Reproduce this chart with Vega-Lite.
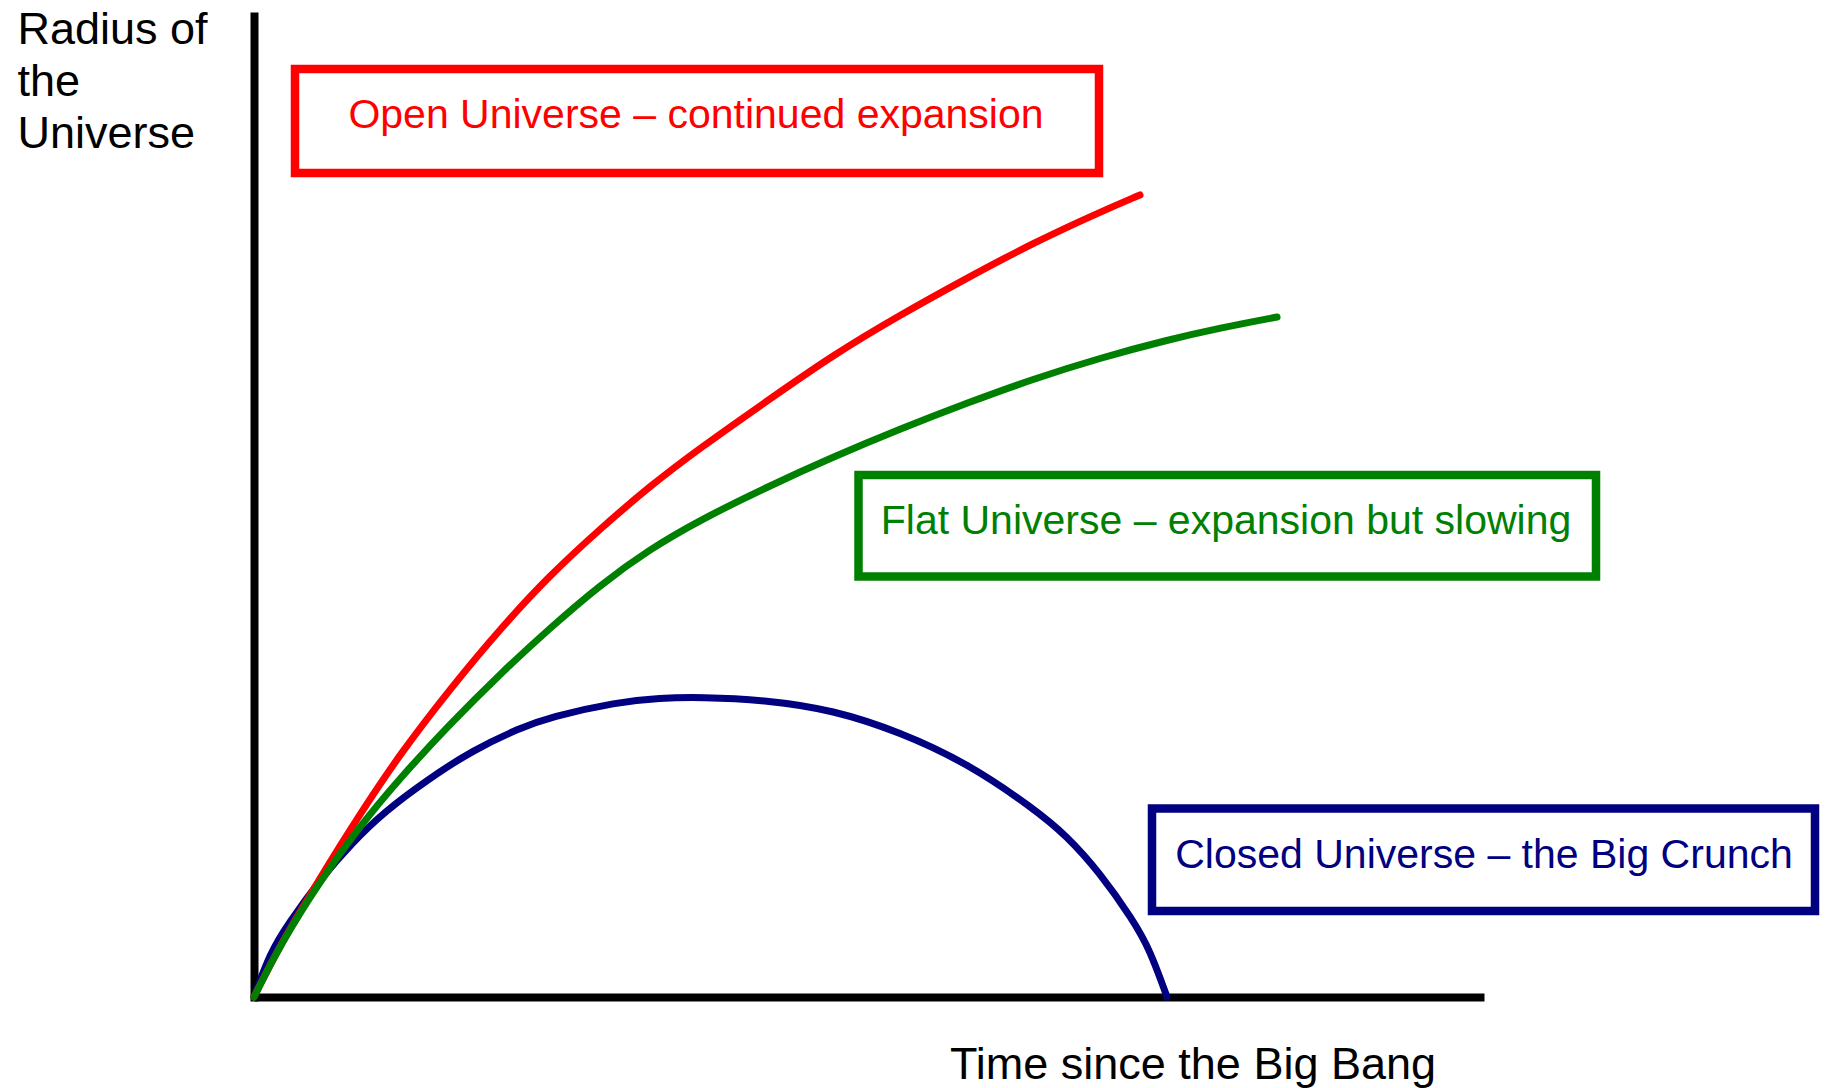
{
  "$schema": "https://vega.github.io/schema/vega-lite/v6.json",
  "width": 1230,
  "height": 981,
  "autosize": "none",
  "padding": {"left": 254, "top": 16, "right": 341, "bottom": 91},
  "background": "white",
  "config": {"view": {"stroke": null}},
  "datasets": {
    "curves": [
      {"universe": "Closed", "t": 0, "r": 0},
      {"universe": "Closed", "t": 0.16, "r": 0.44},
      {"universe": "Closed", "t": 0.34, "r": 0.73},
      {"universe": "Closed", "t": 0.68, "r": 1.2},
      {"universe": "Closed", "t": 0.98, "r": 1.54},
      {"universe": "Closed", "t": 1.3, "r": 1.85},
      {"universe": "Closed", "t": 1.73, "r": 2.17},
      {"universe": "Closed", "t": 2.19, "r": 2.47},
      {"universe": "Closed", "t": 2.66, "r": 2.69},
      {"universe": "Closed", "t": 2.96, "r": 2.8},
      {"universe": "Closed", "t": 3.63, "r": 2.95},
      {"universe": "Closed", "t": 4.06, "r": 2.99},
      {"universe": "Closed", "t": 4.46, "r": 3.0},
      {"universe": "Closed", "t": 5.13, "r": 2.97},
      {"universe": "Closed", "t": 5.79, "r": 2.87},
      {"universe": "Closed", "t": 6.46, "r": 2.65},
      {"universe": "Closed", "t": 7.13, "r": 2.34},
      {"universe": "Closed", "t": 7.79, "r": 1.89},
      {"universe": "Closed", "t": 8.13, "r": 1.61},
      {"universe": "Closed", "t": 8.46, "r": 1.24},
      {"universe": "Closed", "t": 8.79, "r": 0.77},
      {"universe": "Closed", "t": 8.96, "r": 0.47},
      {"universe": "Closed", "t": 9.13, "r": 0},
      {"universe": "Open", "t": 0, "r": 0},
      {"universe": "Open", "t": 0.26, "r": 0.52},
      {"universe": "Open", "t": 0.66, "r": 1.19},
      {"universe": "Open", "t": 1.06, "r": 1.83},
      {"universe": "Open", "t": 1.46, "r": 2.43},
      {"universe": "Open", "t": 1.96, "r": 3.08},
      {"universe": "Open", "t": 2.46, "r": 3.68},
      {"universe": "Open", "t": 2.96, "r": 4.22},
      {"universe": "Open", "t": 3.46, "r": 4.68},
      {"universe": "Open", "t": 3.96, "r": 5.11},
      {"universe": "Open", "t": 4.46, "r": 5.49},
      {"universe": "Open", "t": 5.13, "r": 5.96},
      {"universe": "Open", "t": 5.79, "r": 6.42},
      {"universe": "Open", "t": 6.46, "r": 6.82},
      {"universe": "Open", "t": 7.13, "r": 7.19},
      {"universe": "Open", "t": 7.79, "r": 7.54},
      {"universe": "Open", "t": 8.46, "r": 7.85},
      {"universe": "Open", "t": 8.86, "r": 8.02},
      {"universe": "Flat", "t": 0, "r": 0},
      {"universe": "Flat", "t": 0.26, "r": 0.52},
      {"universe": "Flat", "t": 0.66, "r": 1.16},
      {"universe": "Flat", "t": 1.06, "r": 1.71},
      {"universe": "Flat", "t": 1.46, "r": 2.19},
      {"universe": "Flat", "t": 1.96, "r": 2.73},
      {"universe": "Flat", "t": 2.46, "r": 3.23},
      {"universe": "Flat", "t": 2.96, "r": 3.69},
      {"universe": "Flat", "t": 3.46, "r": 4.12},
      {"universe": "Flat", "t": 3.96, "r": 4.48},
      {"universe": "Flat", "t": 4.46, "r": 4.77},
      {"universe": "Flat", "t": 5.13, "r": 5.1},
      {"universe": "Flat", "t": 5.79, "r": 5.4},
      {"universe": "Flat", "t": 6.46, "r": 5.68},
      {"universe": "Flat", "t": 7.13, "r": 5.94},
      {"universe": "Flat", "t": 7.79, "r": 6.18},
      {"universe": "Flat", "t": 8.46, "r": 6.39},
      {"universe": "Flat", "t": 9.13, "r": 6.57},
      {"universe": "Flat", "t": 9.66, "r": 6.69},
      {"universe": "Flat", "t": 10.23, "r": 6.8}
    ],
    "boxes": [
      {"universe": "Open", "t": 0.41, "t2": 8.45, "r": 9.28, "r2": 8.24, "label": "Open Universe – continued expansion", "lt": 4.42, "lr": 8.69},
      {"universe": "Flat", "t": 6.045, "t2": 13.42, "r": 5.22, "r2": 4.205, "label": "Flat Universe – expansion but slowing", "lt": 9.72, "lr": 4.63},
      {"universe": "Closed", "t": 8.98, "t2": 15.61, "r": 1.885, "r2": 0.86, "label": "Closed Universe – the Big Crunch", "lt": 12.3, "lr": 1.29}
    ]
  },
  "layer": [
    {
      "data": {"name": "boxes"},
      "mark": {"type": "rect", "filled": false, "strokeWidth": 8.5},
      "encoding": {
        "x": {"field": "t", "type": "quantitative", "scale": {"domain": [0, 12.3], "nice": false, "zero": false},
          "axis": {
            "domain": true, "domainColor": "black", "domainWidth": 8, "domainCap": "butt",
            "ticks": false, "labels": false, "grid": false,
            "title": "Time since the Big Bang",
            "titleFont": "Liberation Sans", "titleFontSize": 45, "titleFontWeight": "normal", "titleColor": "black",
            "titleX": 938.5, "titleY": 81, "titleAlign": "center", "titleBaseline": "alphabetic"
          }},
        "x2": {"field": "t2"},
        "y": {"field": "r", "type": "quantitative", "scale": {"domain": [0, 9.81], "nice": false, "zero": false},
          "axis": {
            "domain": true, "domainColor": "black", "domainWidth": 8, "domainCap": "square",
            "ticks": false, "labels": false, "grid": false,
            "title": ["Radius of", "the", "Universe"],
            "titleFont": "Liberation Sans", "titleFontSize": 45, "titleFontWeight": "normal", "titleColor": "black",
            "titleAngle": 0, "titleX": -237, "titleY": 27, "titleAlign": "left", "titleBaseline": "alphabetic",
            "titleLineHeight": 52
          }},
        "y2": {"field": "r2"},
        "color": {"field": "universe", "type": "nominal",
          "scale": {"domain": ["Open", "Flat", "Closed"], "range": ["#ff0000", "#008000", "#000080"]},
          "legend": null}
      }
    },
    {
      "data": {"name": "boxes"},
      "mark": {"type": "text", "align": "center", "baseline": "alphabetic", "font": "Liberation Sans", "fontSize": 41},
      "encoding": {
        "x": {"field": "lt", "type": "quantitative", "scale": {"domain": [0, 12.3], "nice": false, "zero": false}},
        "y": {"field": "lr", "type": "quantitative", "scale": {"domain": [0, 9.81], "nice": false, "zero": false}},
        "text": {"field": "label"},
        "color": {"field": "universe", "type": "nominal",
          "scale": {"domain": ["Open", "Flat", "Closed"], "range": ["#ff0000", "#008000", "#000080"]},
          "legend": null}
      }
    },
    {
      "data": {"name": "curves"},
      "mark": {"type": "line", "interpolate": "basis", "strokeWidth": 7, "strokeCap": "round"},
      "encoding": {
        "x": {"field": "t", "type": "quantitative", "scale": {"domain": [0, 12.3], "nice": false, "zero": false}},
        "y": {"field": "r", "type": "quantitative", "scale": {"domain": [0, 9.81], "nice": false, "zero": false}},
        "order": {"field": "t", "type": "quantitative"},
        "color": {"field": "universe", "type": "nominal",
          "scale": {"domain": ["Open", "Flat", "Closed"], "range": ["#ff0000", "#008000", "#000080"]},
          "legend": null}
      }
    }
  ]
}
